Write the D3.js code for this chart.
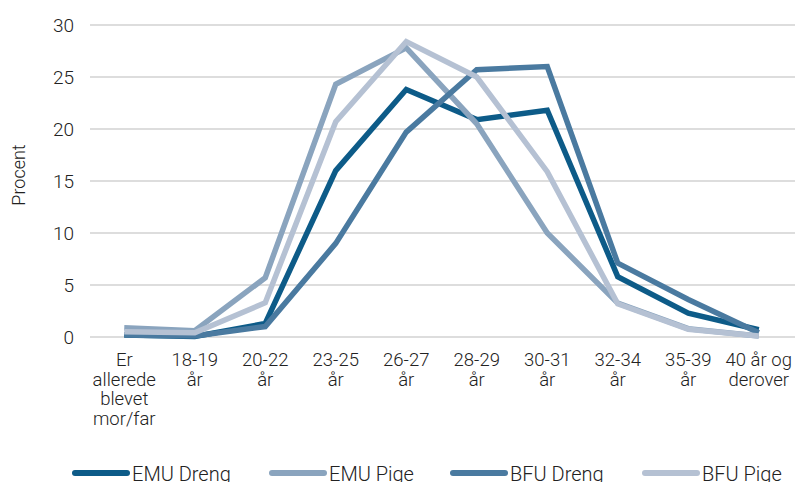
<!DOCTYPE html>
<html><head><meta charset="utf-8">
<script src="https://cdn.jsdelivr.net/npm/d3@7"></script>
<style>body{margin:0;background:#fff}svg{display:block}text{font-family:Roboto, "Noto Sans", sans-serif;fill:#222;font-weight:300}</style>
</head><body>
<svg id="c" width="795" height="482"></svg>
<script>
const categories = [["Er","allerede","blevet","mor/far"],["18-19","år"],["20-22","år"],["23-25","år"],["26-27","år"],["28-29","år"],["30-31","år"],["32-34","år"],["35-39","år"],["40 år og","derover"]];
const seriesNames = ["EMU Dreng","EMU Pige","BFU Dreng","BFU Pige"];
const colors = ["#0d5b88","#8aa4be","#4a7aa0","#b5c1d3"];
const emuDreng = [0.2, 0.05, 1.3, 16.0, 23.8, 20.9, 21.8, 5.8, 2.3, 0.7];
const emuPige  = [0.9, 0.6, 5.7, 24.3, 27.8, 20.5, 10.0, 3.25, 0.8, 0.1];
const bfuDreng = [0.2, 0.1, 1.0, 9.0, 19.7, 25.7, 26.0, 7.1, 3.6, 0.4];
const bfuPige  = [0.5, 0.4, 3.3, 20.7, 28.4, 25.0, 15.9, 3.2, 0.75, 0.1];
const yTicks = [0,5,10,15,20,25,30];
const series = [emuDreng, emuPige, bfuDreng, bfuPige];

const svg = d3.select("#c");
const mLeft = 89, mRight = 794, mTop = 25, mBottom = 337;
const x = d3.scaleBand().domain(d3.range(categories.length)).range([mLeft, mRight]);
const y = d3.scaleLinear().domain([0,30]).range([mBottom, mTop]);

const g = svg.append("g");
g.selectAll("line.grid").data(yTicks).join("line")
  .attr("x1", mLeft+1).attr("x2", mRight+1)
  .attr("y1", d=>y(d)).attr("y2", d=>y(d))
  .attr("stroke", "#d2d2d2").attr("stroke-width", 1.5);
g.selectAll("text.yt").data(yTicks).join("text")
  .attr("x", 74).attr("y", d=>y(d)).attr("dy","0.36em")
  .attr("text-anchor","end").attr("font-size", 19).text(d=>d);

svg.append("text").attr("transform","translate(25,175) rotate(-90)")
  .attr("text-anchor","middle").attr("font-size",18).text("Procent");

const xl = g.selectAll("text.xt").data(categories).join("text")
  .attr("text-anchor","middle").attr("font-size",18.5)
  .attr("transform",(d,i)=>`translate(${x(i)+x.bandwidth()/2},366)`);
xl.selectAll("tspan").data(d=>d).join("tspan")
  .attr("x",0).attr("y",(d,i)=>i*19.5).text(d=>d);

const line = d3.line().x((d,i)=>x(i)+x.bandwidth()/2).y(d=>y(d));
series.forEach((s,k)=>{
  g.append("path").attr("d", line(s)).attr("fill","none")
   .attr("stroke", colors[k]).attr("stroke-width",5.5)
   .attr("stroke-linejoin","miter").attr("stroke-linecap","butt");
});

const legX = [72, 269, 450, 642];
const lg = svg.selectAll("g.leg").data(seriesNames).join("g")
  .attr("transform",(d,i)=>`translate(${legX[i]},473)`);
lg.append("line").attr("x1",3).attr("x2",55).attr("y1",0).attr("y2",0)
  .attr("stroke",(d,i)=>colors[i]).attr("stroke-width",6).attr("stroke-linecap","round");
lg.append("text").attr("x",60).attr("y",8).attr("font-size",20)
  .attr("font-family","'Roboto Condensed', 'Liberation Sans Narrow', 'DejaVu Sans Condensed', sans-serif")
  .text(d=>d);
</script>
</body></html>
